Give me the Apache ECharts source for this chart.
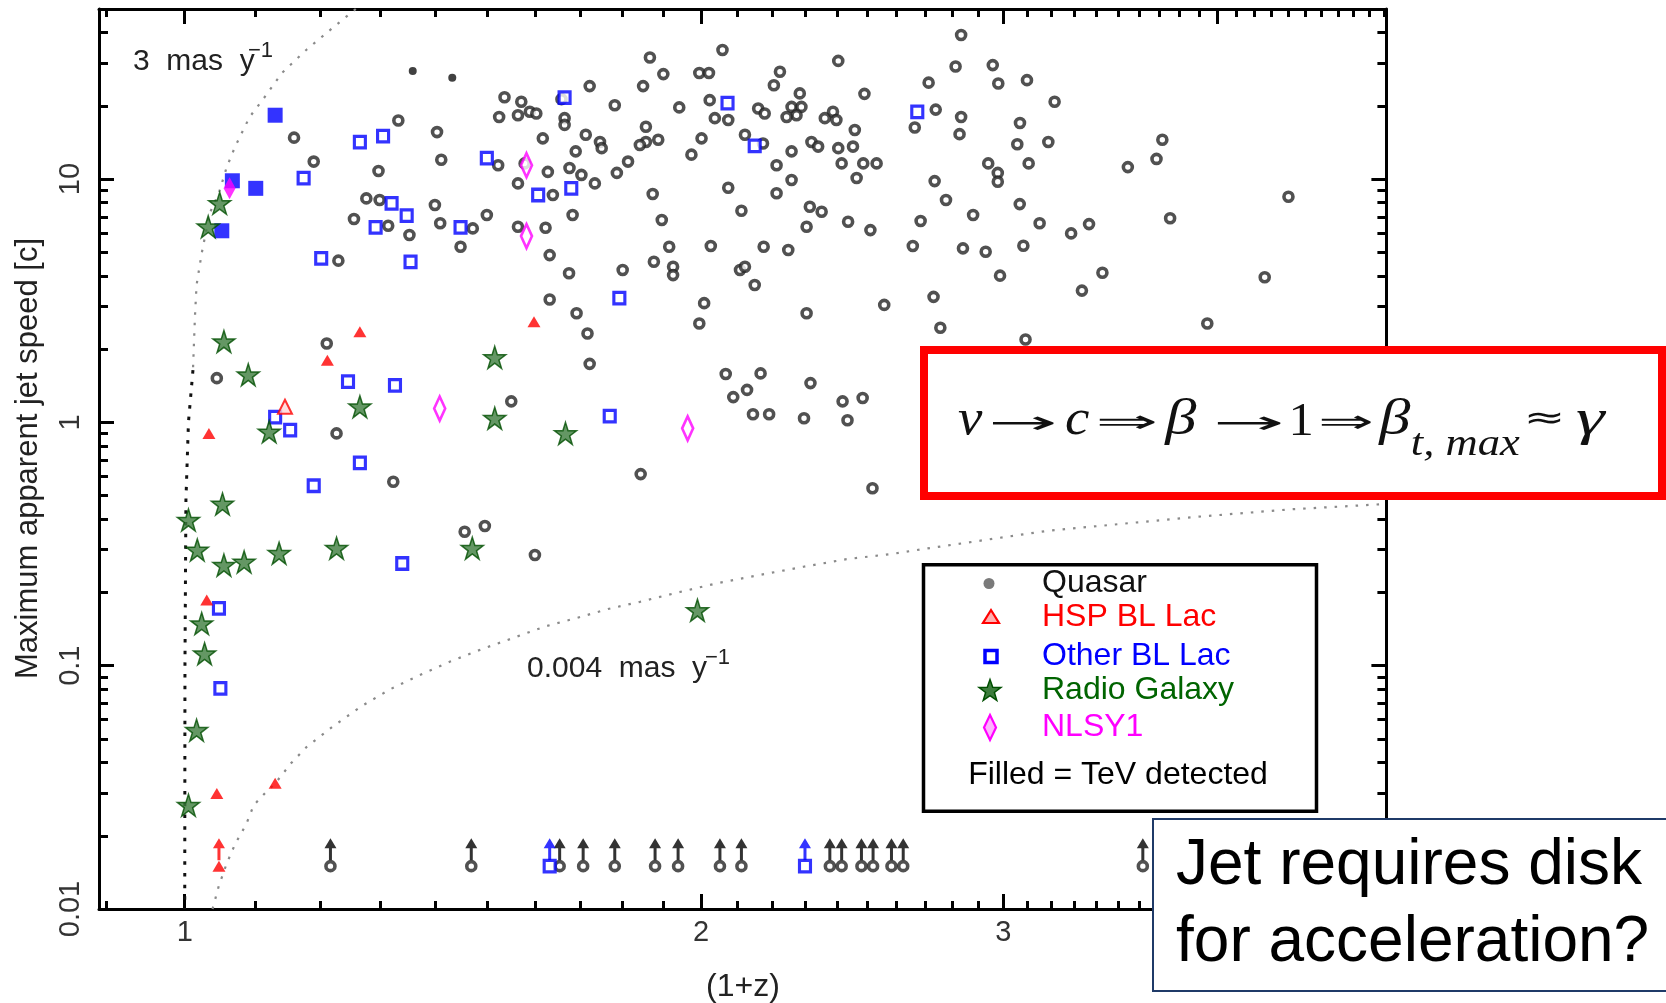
<!DOCTYPE html>
<html>
<head>
<meta charset="utf-8">
<title>Maximum apparent jet speed vs (1+z)</title>
<script src="https://cdn.jsdelivr.net/npm/echarts@6.0.0/dist/echarts.min.js"></script>
<style>
html,body{margin:0;padding:0;background:#fff;}
#chart{width:1666px;height:1003px;}
</style>
</head>
<body>
<div id="chart"></div>
<script>
// (1+z) , maximum apparent jet speed [c]
const quasar = [
  [1.158,14.8],[1.189,11.8],[1.332,17.4],[1.403,15.6],[1.297,10.8],[1.411,12.0],[1.276,8.33],[1.299,8.20],
  [1.399,7.82],[1.255,6.85],[1.314,6.43],[1.352,5.89],[1.409,6.58],[1.229,4.62],[1.867,31.6],[2.058,33.9],
  [2.404,30.6],[1.901,27.0],[1.995,27.3],[2.021,27.3],[2.223,27.6],[2.205,24.3],[1.722,24.1],[1.850,24.1],
  [2.490,22.4],[2.283,22.5],[1.536,21.7],[1.571,20.8],[1.658,21.3],[1.781,20.1],[1.942,19.7],[2.023,21.1],
  [2.159,19.5],[2.258,19.8],[2.178,18.6],[2.288,19.8],[2.273,18.3],[2.387,18.9],[1.525,18.0],[1.564,18.3],
  [1.589,18.9],[1.603,18.6],[1.665,17.8],[1.665,16.7],[2.037,17.8],[2.074,17.5],[2.243,18.0],[2.361,17.8],
  [2.398,17.5],[1.617,14.7],[1.713,15.2],[1.746,14.2],[1.750,13.4],[1.857,16.4],[1.857,14.2],[1.842,13.8],
  [1.888,14.5],[2.001,14.7],[2.121,15.2],[2.173,14.0],[2.258,13.0],[2.319,14.2],[2.340,13.6],[2.404,13.4],
  [2.452,13.6],[2.458,15.9],[1.523,11.4],[1.578,11.6],[1.690,13.0],[1.813,11.8],[1.974,12.6],[2.213,11.4],
  [2.415,11.6],[2.486,11.6],[2.531,11.6],[2.464,10.1],[2.258,9.91],[2.213,8.74],[1.564,9.60],[1.628,10.7],
  [1.676,11.1],[1.703,10.4],[1.734,9.60],[1.639,8.60],[1.786,10.6],[1.874,8.68],[2.074,9.21],[2.314,7.70],
  [2.351,7.34],[2.304,6.37],[2.436,6.68],[2.510,6.17],[2.111,7.41],[1.897,6.79],[1.472,6.27],[1.500,7.12],
  [1.564,6.37],[1.623,6.31],[1.683,7.12],[1.448,5.27],[1.632,4.87],[1.675,4.10],[1.800,4.23],[1.877,4.57],
  [1.916,5.27],[1.926,4.36],[1.926,4.03],[2.026,5.31],[2.175,5.27],[2.248,5.11],[2.107,4.23],[2.121,4.36],
  [2.149,3.67],[1.632,3.20],[1.692,2.81],[2.008,3.09],[2.304,2.81],[2.835,39.1],[2.814,29.0],[2.958,29.4],
  [2.714,24.9],[2.980,24.7],[3.097,25.5],[3.214,20.8],[2.740,19.3],[2.835,18.0],[2.664,16.3],[2.829,15.3],
  [3.068,17.0],[3.057,13.9],[3.187,14.2],[3.714,14.5],[3.685,12.1],[3.546,11.2],[2.940,11.6],[2.978,10.6],
  [2.978,9.75],[3.104,11.6],[2.736,9.81],[4.399,8.46],[2.778,8.20],[3.067,7.89],[2.881,7.12],[2.685,6.72],
  [3.150,6.58],[3.286,5.98],[3.366,6.53],[3.753,6.90],[2.657,5.31],[2.842,5.19],[2.930,5.03],[3.082,5.32],
  [2.987,4.01],[3.427,4.12],[3.334,3.48],[4.261,3.95],[2.557,3.04],[2.732,3.28],[2.757,2.45],[3.945,2.55],
  [3.091,2.19],[1.210,2.11],[1.044,1.52],[1.226,0.901],[1.323,0.570],[1.717,2.32],[1.722,1.74],[1.550,1.22],
  [1.995,2.55],[2.067,1.58],[2.166,1.59],[2.127,1.36],[2.088,1.27],[2.144,1.08],[2.191,1.08],[2.316,1.45],
  [2.296,1.04],[2.418,1.22],[2.484,1.26],[2.434,1.02],[1.844,0.613],[2.517,0.536],[1.456,0.355],[1.496,0.375],
  [1.600,0.285]
];
const quasarTeV = [[1.358,27.8],[1.432,26.1]];
const hspBLLacTeV = [[1.265,2.36],[1.211,1.80],[1.033,0.901],[1.030,0.186],[1.044,0.0298],[1.129,0.0329],[1.598,2.59]];
const hspBLLac = [[1.144,1.16]];
const otherBLLac = [
  [1.173,10.1],[1.265,14.2],[1.305,15.0],[1.320,7.95],[1.347,7.07],[1.292,6.33],[1.201,4.72],[1.354,4.57],
  [1.665,21.6],[2.072,20.5],[2.149,13.7],[1.500,12.2],[1.607,8.60],[1.680,9.16],[1.448,6.33],[1.792,3.24],
  [2.673,18.9],[1.245,1.47],[1.326,1.42],[1.129,1.05],[1.152,0.930],[1.265,0.682],[1.189,0.549],[1.339,0.263],
  [1.047,0.172],[1.049,0.0807],[1.769,1.06]
];
const otherBLLacTeV = [[1.129,18.3],[1.066,9.84],[1.100,9.16],[1.051,6.13]];
const radioGalaxy = [
  [1.048,7.95],[1.032,6.37],[1.054,2.15],[1.089,1.57],[1.265,1.16],[1.120,0.915],[1.052,0.462],[1.005,0.397],
  [1.017,0.299],[1.054,0.259],[1.083,0.267],[1.135,0.290],[1.226,0.304],[1.023,0.149],[1.027,0.112],[1.016,0.0543],
  [1.005,0.0267],[1.516,1.85],[1.516,1.04],[1.667,0.901],[1.471,0.304],[1.990,0.169]
];
const nlsy1 = [[1.582,11.4],[1.582,5.83],[1.408,1.14],[1.964,0.945]];
const nlsy1TeV = [[1.062,9.16]];

// sources without a measured speed, drawn at the floor value with an upward arrow
const limitSpeed = 0.015;
const limitQuasarX = [1.216,1.469,1.654,1.707,1.781,1.880,1.939,2.051,2.111,2.377,2.415,2.480,2.519,2.582,2.623,3.618];
const limitOtherBLLacX = [1.632,2.299];
const limitHspX = [1.047];

// constant proper-motion loci
const curve3masUpper = [
  [1.258,50],[1.220,41.9],[1.178,34.1],[1.140,27.4],[1.111,21.3],[1.091,18.0],[1.070,13.6],[1.058,11.2],
  [1.047,8.78],[1.034,7.23],[1.023,4.95],[1.016,3.67],[1.0138,2.72],[1.0111,1.64]
];
const curve3masLower = [[1.0111,1.64],[1.0050,1.0],[1.0016,0.479],[1.0003,0.1],[1.0,0.01]];
const curve004 = [
  [1.038,0.0100],[1.047,0.0125],[1.058,0.0154],[1.070,0.0185],[1.086,0.0223],[1.097,0.0267],[1.114,0.0300],
  [1.129,0.0328],[1.154,0.0399],[1.178,0.0464],[1.221,0.0565],[1.268,0.0682],[1.317,0.0799],[1.371,0.0915],
  [1.428,0.104],[1.490,0.117],[1.554,0.130],[1.622,0.145],[1.692,0.157],[1.765,0.171],[1.842,0.183],
  [1.927,0.198],[2.042,0.218],[2.164,0.236],[2.294,0.255],[2.431,0.274],[2.583,0.288],[2.707,0.303],
  [3.180,0.358],[3.871,0.408],[4.407,0.439],[5.017,0.462]
];

// axes
const X_MIN = 0.8913, X_MAX = 5.017, Y_MIN = 0.01, Y_MAX = 50;
const xTickLabels = [1, 2, 3, 4];
const yTickLabels = [0.01, 0.1, 1, 10];
const xMinorTicks = [0.9];
for (let d = 1; d <= 4; d++) for (let k = 1; k <= 9; k++) xMinorTicks.push(+(d + k / 10).toFixed(1));
xMinorTicks.push(5.0);
const yMinorTicks = [];
[0.01, 0.1, 1, 10].forEach(dec => { for (let k = 2; k <= 9; k++) { const v = +(k * dec).toPrecision(2); if (v < Y_MAX) yMinorTicks.push(v); } });

const lg = Math.log10;
const SANS = '"Liberation Sans", Arial, sans-serif';
const SERIF = '"Liberation Serif", "DejaVu Serif", serif';

function nearestLabel(list, v) {
  let best = list[0];
  list.forEach(t => { if (Math.abs(lg(t) - v) < Math.abs(lg(best) - v)) best = t; });
  return String(best);
}

function tickAxis(pos, min, max, ticks, len, withLine, labels, labelOpt) {
  return {
    type: 'value', gridIndex: 0, position: pos, min: lg(min), max: lg(max),
    axisLine: { show: withLine, onZero: false, lineStyle: { color: '#000', width: 3 } },
    splitLine: { show: false },
    axisTick: { show: true, inside: true, length: len, customValues: ticks.map(lg), lineStyle: { color: '#000', width: 3 } },
    axisLabel: labels ? Object.assign({
      show: true, customValues: labels.map(lg), fontSize: 29, fontFamily: SANS, color: '#333',
      formatter: v => nearestLabel(labels, v)
    }, labelOpt) : { show: false }
  };
}

const xAxes = [
  { type: 'log', gridIndex: 0, min: X_MIN, max: X_MAX, show: false, splitLine: { show: false } },
  tickAxis('bottom', X_MIN, X_MAX, xMinorTicks, 8, true),
  tickAxis('bottom', X_MIN, X_MAX, xTickLabels, 15, false, xTickLabels, { margin: 9 }),
  tickAxis('top', X_MIN, X_MAX, xMinorTicks, 8, true),
  tickAxis('top', X_MIN, X_MAX, xTickLabels, 15, false)
];
const yAxes = [
  { type: 'log', gridIndex: 0, min: Y_MIN, max: Y_MAX, show: false, splitLine: { show: false } },
  tickAxis('left', Y_MIN, Y_MAX, yMinorTicks, 9, true),
  tickAxis('left', Y_MIN, Y_MAX, yTickLabels, 15, false, yTickLabels, { margin: 14, rotate: 90 }),
  tickAxis('right', Y_MIN, Y_MAX, yMinorTicks, 9, true),
  tickAxis('right', Y_MIN, Y_MAX, yTickLabels, 15, false)
];

const STAR = 'path://M50,0L61.2,34.5L97.6,34.5L68.2,55.9L79.4,90.5L50,69.1L20.6,90.5L31.8,55.9L2.4,34.5L38.8,34.5Z';
const ARROW_UP = 'path://M6,0L12,10L7.5,10L7.5,22L4.5,22L4.5,10L0,10Z';
const ring = { color: '#fff', borderColor: '#262626', borderWidth: 3.6 };
const openSquare = { color: '#fff', borderColor: '#0000ff', borderWidth: 3.2 };
const starStyle = { color: '#3d7d3d', borderColor: '#004f00', borderWidth: 1.5 };

function scatter(data, symbol, size, style, extra) {
  return Object.assign({ type: 'scatter', xAxisIndex: 0, yAxisIndex: 0, data, symbol, symbolSize: size, itemStyle: style, silent: true, z: 3 }, extra || {});
}
function dotted(data, color, width, dash) {
  return { type: 'line', xAxisIndex: 0, yAxisIndex: 0, data, symbol: 'none', showSymbol: false, silent: true, z: 1,
           lineStyle: { color, width, type: dash } };
}
const atFloor = xs => xs.map(x => [x, limitSpeed]);

const series = [
  dotted(curve3masUpper, '#8a8a8a', 2.2, [2.5, 8]),
  dotted(curve3masLower, '#111', 3, [3.5, 8.2]),
  dotted(curve004, '#8a8a8a', 2.2, [2.5, 8]),
  scatter(quasar, 'circle', 9, ring),
  scatter(quasarTeV, 'circle', 8, { color: '#111' }),
  scatter(otherBLLac, 'rect', [11, 11.5], openSquare),
  scatter(otherBLLacTeV, 'rect', 15, { color: '#0000ff' }),
  scatter(radioGalaxy, STAR, 22, starStyle),
  scatter(hspBLLacTeV, 'triangle', [13, 11], { color: '#ff0000' }),
  scatter(hspBLLac, 'triangle', [14, 14], { color: '#ffd6d6', borderColor: '#ff0000', borderWidth: 2 }),
  scatter(nlsy1, 'diamond', [11, 24], { color: '#fff', borderColor: '#ff00ff', borderWidth: 3 }),
  scatter(nlsy1TeV, 'diamond', [12, 22], { color: '#ff00ff' }),
  // floor markers
  scatter(atFloor(limitQuasarX), ARROW_UP, [12, 22], { color: '#000' }, { symbolOffset: [0, -17] }),
  scatter(atFloor(limitQuasarX), 'circle', 9, ring),
  scatter(atFloor(limitOtherBLLacX), ARROW_UP, [12, 22], { color: '#0000ff' }, { symbolOffset: [0, -17] }),
  scatter(atFloor(limitOtherBLLacX), 'rect', [11, 11.5], openSquare),
  scatter(atFloor(limitHspX), ARROW_UP, [12, 22], { color: '#ff0000' }, { symbolOffset: [0, -17] }),
  scatter(atFloor(limitHspX), 'triangle', [13, 11], { color: '#ff0000' })
];

// ---------- annotations ----------
function txt(text, x, y, font, fill, align, extra) {
  return Object.assign({ type: 'text', x, y, z: 20, silent: true,
    style: { text, font, fill, textAlign: align || 'left', align: align || 'left', textVerticalAlign: 'middle', verticalAlign: 'middle' } }, extra || {});
}
function starPoints(cx, cy, R) {
  const pts = [];
  for (let i = 0; i < 10; i++) {
    const r = i % 2 ? R * 0.4 : R, a = -Math.PI / 2 + i * Math.PI / 5;
    pts.push([cx + r * Math.cos(a), cy + r * Math.sin(a)]);
  }
  return pts;
}

const graphics = [
  txt('Maximum apparent jet speed [c]', 28, 458.5, '31px ' + SANS, '#222', 'center', { rotation: Math.PI / 2 }),
  txt('(1+z)', 743, 987, '32px ' + SANS, '#222', 'center'),
  txt('3  mas  y', 133, 61.5, '30px ' + SANS, '#222'),
  txt('\u22121', 248, 51, '22px ' + SANS, '#222'),
  txt('0.004  mas  y', 527, 668.5, '30px ' + SANS, '#222'),
  txt('\u22121', 705, 657.5, '22px ' + SANS, '#222')
];

// legend box
const legendRows = [
  { label: 'Quasar', color: '#111', y: 583.5 },
  { label: 'HSP BL Lac', color: '#ff0000', y: 617.5 },
  { label: 'Other BL Lac', color: '#0000ff', y: 656.5 },
  { label: 'Radio Galaxy', color: '#006400', y: 690.5 },
  { label: 'NLSY1', color: '#ff00ff', y: 727.5 }
];
graphics.push({ type: 'rect', z: 10, silent: true, shape: { x: 923.5, y: 564.8, width: 393, height: 246.5 },
  style: { fill: '#fff', stroke: '#000', lineWidth: 3.5 } });
graphics.push({ type: 'circle', z: 11, silent: true, shape: { cx: 989, cy: 583.5, r: 5.5 }, style: { fill: '#7a7a7a' } });
graphics.push({ type: 'polygon', z: 11, silent: true, shape: { points: [[991, 610], [999, 623], [983, 623]] },
  style: { fill: '#ffb0b0', stroke: '#ff0000', lineWidth: 2.2 } });
graphics.push({ type: 'rect', z: 11, silent: true, shape: { x: 985, y: 650.5, width: 12, height: 12 },
  style: { fill: '#fff', stroke: '#0000ff', lineWidth: 3.5 } });
graphics.push({ type: 'polygon', z: 11, silent: true, shape: { points: starPoints(990, 691, 11.5) },
  style: { fill: '#3d7d3d', stroke: '#004f00', lineWidth: 1.5 } });
graphics.push({ type: 'polygon', z: 11, silent: true, shape: { points: [[990, 715], [996, 727.5], [990, 740], [984, 727.5]] },
  style: { fill: '#ffb3ff', stroke: '#ff00ff', lineWidth: 2.2 } });
legendRows.forEach(r => graphics.push(txt(r.label, 1042, r.y, '32px ' + SANS, r.color)));
graphics.push(txt('Filled = TeV detected', 1118, 775.5, '32px ' + SANS, '#000', 'center'));

// formula box
graphics.push({ type: 'rect', z: 10, silent: true, shape: { x: 924, y: 350, width: 738, height: 146 },
  style: { fill: '#fff', stroke: '#ff0000', lineWidth: 8 } });
const measure = document.createElement('canvas').getContext('2d');
measure.textBaseline = 'middle';
function ink(text, font) {
  measure.font = font;
  const m = measure.measureText(text);
  const l = m.actualBoundingBoxLeft || 0, r = m.actualBoundingBoxRight || m.width;
  const a = m.actualBoundingBoxAscent || 0, d = m.actualBoundingBoxDescent || 0;
  return { l, w: Math.max(1, l + r), cy: (d - a) / 2 };
}
const F_IT = 'italic 50px ' + SERIF, F_UP = '46px ' + SERIF, F_SUB = 'italic 38px ' + SERIF;
const F_SYM = '44px "DejaVu Sans", sans-serif';
// each token: ink start x, optional ink width (stretched), optional ink centre y, horizontal stretch for letters
const formula = [
  { t: 'v', x: 958, f: F_IT, s: 1.1 }, { t: '\u2192', x: 992, f: F_SYM, w: 62, cy: 423 }, { t: 'c', x: 1066, f: F_IT, s: 1.1 },
  { t: '\u21D2', x: 1099, f: F_SYM, w: 56, cy: 422 }, { t: '\u03B2', x: 1164, f: F_IT, s: 1.25 }, { t: '\u2192', x: 1217, f: F_SYM, w: 64, cy: 423 },
  { t: '1', x: 1293, f: F_UP, s: 1.1, y: 422.5 }, { t: '\u21D2', x: 1321, f: F_SYM, w: 50, cy: 422 }, { t: '\u03B2', x: 1378, f: F_IT, s: 1.25 },
  { t: 't, max', x: 1412, f: F_SUB, w: 108, y: 445 }, { t: '\u2248', x: 1528, f: F_SYM, w: 33, cy: 418 }, { t: '\u03B3', x: 1576, f: F_IT, s: 1.45 }
];
formula.forEach(k => {
  const g = ink(k.t, k.f);
  const sx = k.w ? k.w / g.w : k.s;
  const sy = k.cy ? 0.72 : 1;
  const y = k.cy ? k.cy - g.cy * sy : (k.y || 421);
  graphics.push(txt(k.t, k.x + g.l * sx, y, k.f, '#111', 'left', { scaleX: sx, scaleY: sy, z: 12 }));
});

// question box
graphics.push({ type: 'rect', z: 10, silent: true, shape: { x: 1153, y: 819, width: 540, height: 172 },
  style: { fill: '#fff', stroke: '#1f3a68', lineWidth: 2 } });
graphics.push(txt('Jet requires disk', 1176, 866.5, '64px ' + SANS, '#000'));
graphics.push(txt('for acceleration?', 1176, 943, '64px ' + SANS, '#000'));

const chart = echarts.init(document.getElementById('chart'), null, { renderer: 'canvas' });
chart.setOption({
  animation: false,
  backgroundColor: '#fff',
  textStyle: { fontFamily: SANS },
  grid: { left: 99, top: 9, width: 1287.4, height: 900, containLabel: false, outerBoundsMode: 'none' },
  xAxis: xAxes,
  yAxis: yAxes,
  series,
  graphic: { elements: graphics }
});
</script>
</body>
</html>
